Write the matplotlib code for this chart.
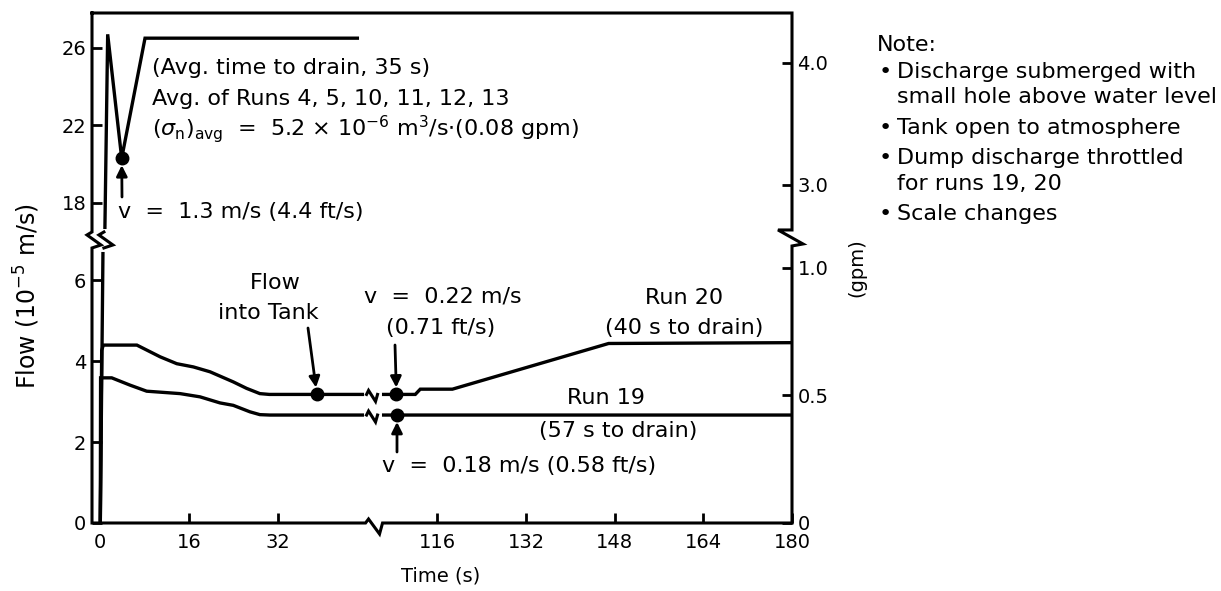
import numpy as np
import matplotlib
matplotlib.use("Agg")
import matplotlib.pyplot as plt
from matplotlib.lines import Line2D
from matplotlib.transforms import IdentityTransform

plt.rcParams['font.family'] = ['DejaVu Sans']
plt.rcParams['mathtext.fontset'] = 'dejavusans'

# ---------------- data ----------------
avg_t = [0.0, 0.5, 0.8, 1.33, 3.86, 8.07, 46.4]
avg_v = [0.0, 7.0, 16.1, 26.7, 20.3, 26.5, 26.5]

run20_t = [0.0, 0.25, 0.54, 6.6, 10.8, 13.8, 16.8, 19.8, 24.0, 26.4, 28.8, 30.5,
           112.0, 112.9, 118.7, 146.9, 180.0]
run20_v = [0.0, 4.27, 4.40, 4.40, 4.11, 3.94, 3.86, 3.74, 3.49, 3.33, 3.20, 3.18,
           3.18, 3.31, 3.31, 4.44, 4.46]

run19_t = [0.0, 0.05, 2.06, 5.36, 8.37, 14.4, 18.0, 21.6, 24.0, 27.0, 28.8, 30.6, 180.0]
run19_v = [0.0, 3.59, 3.59, 3.41, 3.26, 3.20, 3.12, 2.97, 2.91, 2.75, 2.68, 2.67, 2.67]

dot_t = [3.86, 39.1, 108.6, 108.7]
dot_v = [20.3, 3.18, 3.18, 2.67]

x_ticks = [0, 16, 32, 116, 132, 148, 164, 180]
y_ticks = [0, 2, 4, 6, 18, 22, 26]
gpm_ticks = [0, 0.5, 1.0, 3.0, 4.0]
gpm_labels = ['0', '0.5', '1.0', '3.0', '4.0']
GPM_TO_FLOW = 6.309  # 1 gpm = 6.309e-5 m^3/s

# ---------------- broken scales ----------------
XB0, XB1 = 49.5, 104.7
YB0, YB1 = 7.0, 16.1
G = 1e-3
K = 0.479


def fx(t):
    t = np.asarray(t, dtype=float)
    u1 = XB0 + (XB1 - XB0) * G
    return np.where(t <= XB0, t,
                    np.where(t >= XB1, u1 + (t - XB1), XB0 + (t - XB0) * G))


def fx_inv(u):
    u = np.asarray(u, dtype=float)
    u1 = XB0 + (XB1 - XB0) * G
    return np.where(u <= XB0, u,
                    np.where(u >= u1, XB1 + (u - u1), XB0 + (u - XB0) / G))


def fy(v):
    v = np.asarray(v, dtype=float)
    v1 = YB0 + (YB1 - YB0) * G
    return np.where(v <= YB0, v,
                    np.where(v >= YB1, v1 + (v - YB1) * K, YB0 + (v - YB0) * G))


def fy_inv(u):
    u = np.asarray(u, dtype=float)
    v1 = YB0 + (YB1 - YB0) * G
    return np.where(u <= YB0, u,
                    np.where(u >= v1, YB1 + (u - v1) / K, YB0 + (u - YB0) / G))


def fg(g):
    return fy(np.asarray(g, dtype=float) * GPM_TO_FLOW)


def fg_inv(u):
    return fy_inv(u) / GPM_TO_FLOW


W, H = 1221, 591
fig = plt.figure(figsize=(W / 100, H / 100), dpi=100)
AX_L, AX_R, AX_T, AX_B = 92, 792, 13, 523
ax = fig.add_axes([AX_L / W, 1 - AX_B / H, (AX_R - AX_L) / W, (AX_B - AX_T) / H])
ax.set_xscale('function', functions=(fx, fx_inv))
ax.set_yscale('function', functions=(fy, fy_inv))
XMIN, XMAX, YMIN, YMAX = -1.5, 180, 0, 27.8
ax.set_xlim(XMIN, XMAX)
ax.set_ylim(YMIN, YMAX)

ax2 = ax.twinx()
ax2.set_yscale('function', functions=(fg, fg_inv))
ax2.set_ylim(YMIN / GPM_TO_FLOW, YMAX / GPM_TO_FLOW)

for a in (ax, ax2):
    for s in a.spines.values():
        s.set_visible(False)

FS = 14
TFS = 16
ax.set_xticks(x_ticks)
ax.set_xticklabels([str(v) for v in x_ticks])
ax.set_yticks(y_ticks)
ax.set_yticklabels([str(v) for v in y_ticks])
ax.xaxis.set_minor_locator(matplotlib.ticker.NullLocator())
ax.yaxis.set_minor_locator(matplotlib.ticker.NullLocator())
ax.tick_params(direction='in', length=7, width=2, labelsize=FS, pad=4, color='black')
ax.tick_params(axis='x', pad=7)
ax2.set_yticks(gpm_ticks)
ax2.set_yticklabels(gpm_labels)
ax2.yaxis.set_minor_locator(matplotlib.ticker.NullLocator())
ax2.tick_params(direction='in', length=7, width=2, labelsize=FS, pad=4)

LW = 2.4
for tt, vv in ((avg_t, avg_v), (run20_t, run20_v), (run19_t, run19_v)):
    ax.plot(tt, vv, color='black', lw=LW, solid_joinstyle='miter', zorder=3)
ax.plot(dot_t, dot_v, 'o', color='black', ms=9, zorder=4)

# ---------------- frame with break marks (display px) ----------------
fig.canvas.draw()


def ax_px(fx_, fy_):
    return ax.transAxes.transform((fx_, fy_))


xb_frac = (fx(XB0) - fx(XMIN)) / (fx(XMAX) - fx(XMIN))
yb_frac = (fy(YB0) - fy(YMIN)) / (fy(YMAX) - fy(YMIN))
x0, y0 = ax_px(0, 0)
x1, y1 = ax_px(1, 1)
xbp = ax_px(xb_frac, 0)[0]
ybp = ax_px(0, yb_frac)[1]

right_zig = [(0, 10), (-14, 10), (11, -4), (0, -6)]
left_zig = [(0, 8), (-5, 5), (9, -5), (0, -8)]
bottom_zig = [(-9, 0), (-6, 4), (5, -11), (8, 0)]

pts = [(x0, y1), (x1, y1)]
pts += [(x1 + dx, ybp + dy) for dx, dy in right_zig]
pts += [(x1, y0)]
pts += [(xbp + dx, y0 + dy) for dx, dy in reversed(bottom_zig)]
pts += [(x0, y0)]
pts += [(x0 + dx, ybp + dy) for dx, dy in reversed(left_zig)]
pts += [(x0, y1)]
px_, py_ = zip(*pts)
fig.add_artist(Line2D(px_, py_, color='black', lw=2.2, transform=IdentityTransform(),
                      solid_joinstyle='miter', zorder=10))


def zig_on(anchor, shape, cover):
    ax_, ay_ = anchor
    cx = [ax_ + c[0] for c in cover]
    cy = [ay_ + c[1] for c in cover]
    fig.add_artist(Line2D(cx, cy, color='white', lw=5, transform=IdentityTransform(), zorder=8))
    zx = [ax_ + s[0] for s in shape]
    zy = [ay_ + s[1] for s in shape]
    fig.add_artist(Line2D(zx, zy, color='black', lw=2.2, transform=IdentityTransform(),
                          solid_joinstyle='miter', zorder=9))


a_x = ax.transData.transform((0.65, 5.0))[0]
zig_on((a_x, ybp), left_zig, [(0, 8), (0, -8)])
for v in (run20_v[11], run19_v[-1]):
    yy = ax.transData.transform((30.0, v))[1]
    zig_on((xbp, yy), [(-8, 0), (-6, 4), (1, -7), (3, 0)], [(-8, 0), (3, 0)])

# ---------------- text ----------------

def T(x, y, s, ha='left', va='center', fs=TFS, **kw):
    fig.text(x / W, 1 - y / H, s, ha=ha, va=va, fontsize=fs, **kw)


T(152, 68, '(Avg. time to drain, 35 s)')
T(152, 99, 'Avg. of Runs 4, 5, 10, 11, 12, 13')
T(152, 129, r'$(\sigma_{\mathrm{n}})_{\mathrm{avg}}$  =  5.2 × 10$^{-6}$ m$^3$/s$\cdot$(0.08 gpm)')
T(118, 212, 'v  =  1.3 m/s (4.4 ft/s)')
T(275, 283, 'Flow', ha='center')
T(268, 313, 'into Tank', ha='center')
T(443, 297, 'v  =  0.22 m/s', ha='center')
T(441, 328, '(0.71 ft/s)', ha='center')
T(684, 298, 'Run 20', ha='center')
T(684, 328, '(40 s to drain)', ha='center')
T(606, 398, 'Run 19', ha='center')
T(618, 431, '(57 s to drain)', ha='center')
T(382, 466, 'v  =  0.18 m/s (0.58 ft/s)')

T(441, 576, 'Time (s)', ha='center', fs=FS)
T(27, 296, 'Flow (10$^{-5}$ m/s)', ha='center', rotation=90, fs=17)
T(857, 268, '(gpm)', ha='center', rotation=90, fs=FS)

T(877, 45, 'Note:')
notes = [(72, '•', 'Discharge submerged with'), (97, '', 'small hole above water level'),
         (128, '•', 'Tank open to atmosphere'), (158, '•', 'Dump discharge throttled'),
         (184, '', 'for runs 19, 20'), (214, '•', 'Scale changes')]
for y, b, s in notes:
    if b:
        T(885, y, b, ha='center')
    T(897, y, s)

# ---------------- arrows ----------------
arrow = dict(arrowstyle='-|>', color='black', lw=2, mutation_scale=16, shrinkA=0, shrinkB=5)


def arr(xy_data, x_px, y_px):
    ax.annotate('', xy=xy_data, xycoords='data', xytext=(x_px / W, 1 - y_px / H),
                textcoords='figure fraction', arrowprops=arrow, zorder=5)


arr((dot_t[0], dot_v[0]), 122, 197)
arr((dot_t[1], dot_v[1]), 308, 328)
arr((dot_t[2], dot_v[2]), 395, 345)
arr((dot_t[3], dot_v[3]), 397, 452)

fig.savefig('out.png', dpi=100)
